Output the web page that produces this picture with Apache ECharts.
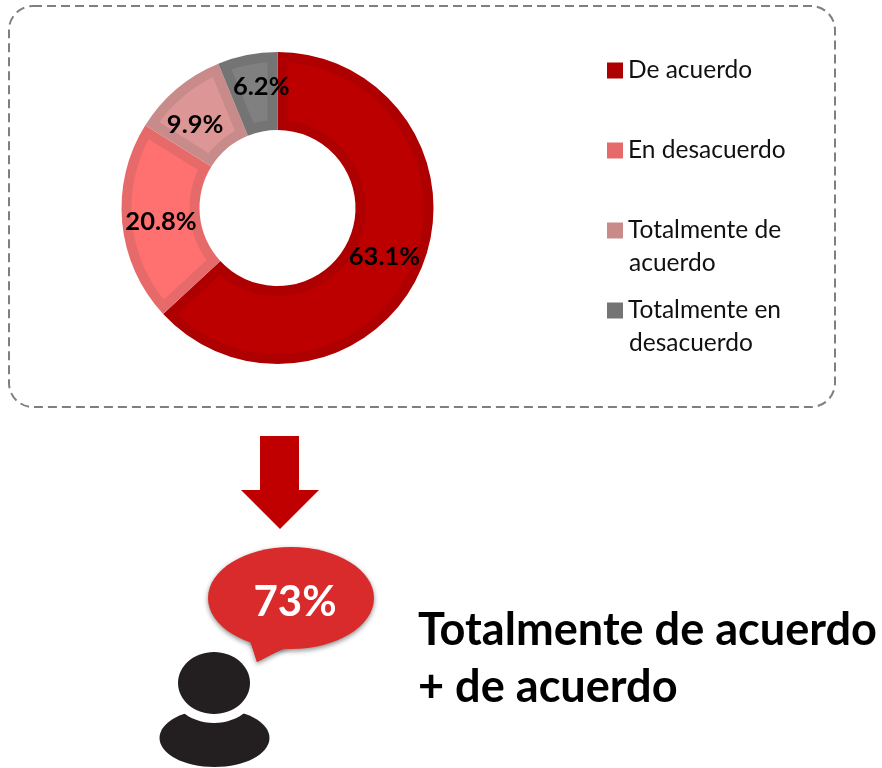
<!DOCTYPE html>
<html>
<head>
<meta charset="utf-8">
<title>Totalmente de acuerdo + de acuerdo</title>
<script src="https://cdn.jsdelivr.net/npm/echarts@6/dist/echarts.min.js"></script>
<style>
	html, body { margin: 0; padding: 0; background: #fff; }
	#chart { width: 882px; height: 768px; }
</style>
</head>
<body>
<div id="chart"></div>
<script>
const categories = ["De acuerdo", "En desacuerdo", "Totalmente de acuerdo", "Totalmente en desacuerdo"];
const values = [63.1, 20.8, 9.9, 6.2];
const ringColors = ["#ae0000", "#e76a6a", "#c98a8a", "#747474"];
const fillColors = ["#bc0000", "#ff7070", "#dc9696", "#808080"];
const labelOffsets = [[-3, 1], [3, 2], [-5, 9], [7, -3]];
const legendFirstLine = ["De acuerdo", "En desacuerdo", "Totalmente de", "Totalmente en"];
const FONT = "Lato";

const cx = 277.5, cy = 208, rOuter = 156, rInner = 78, inset = 10;
const total = values.reduce(function(a, b) { return a + b; }, 0);

// excel style inner border: the lighter part of each slice, kept 10px off every edge
function renderInset(params) {
	let before = 0;
	for (let i = 0; i < params.dataIndex; i++) before += values[i];
	const a0 = before / total * Math.PI * 2;
	const a1 = (before + values[params.dataIndex]) / total * Math.PI * 2;
	const ro = rOuter - inset, ri = rInner + inset;
	const points = [];
	const arc = function(r, from, to) {
		const n = 60;
		for (let k = 0; k <= n; k++) {
			const a = from + (to - from) * k / n;
			points.push([cx + r * Math.sin(a), cy - r * Math.cos(a)]);
		}
	};
	const po = Math.asin(inset / ro), pi = Math.asin(inset / ri);
	arc(ro, a0 + po, a1 - po);
	arc(ri, a1 - pi, a0 + pi);
	return {
		type: "polygon",
		shape: { points: points },
		style: { fill: fillColors[params.dataIndex] }
	};
}

const mychart = echarts.init(document.getElementById("chart"));
mychart.setOption({
	backgroundColor: "#fff",
	animation: false,
	legend: {
		orient: "vertical",
		left: 602,
		top: 53,
		icon: "rect",
		itemWidth: 16,
		itemHeight: 16,
		itemGap: 55,
		selectedMode: false,
		data: categories,
		formatter: function(name) {
			return legendFirstLine[categories.indexOf(name)];
		},
		textStyle: { fontFamily: FONT, fontSize: 24.5, color: "#111" }
	},
	series: [{
		type: "pie",
		z: 1,
		silent: true,
		center: [cx, cy],
		radius: [rInner, rOuter],
		startAngle: 90,
		label: { show: false },
		labelLine: { show: false },
		data: categories.map(function(name, i) {
			return { name: name, value: values[i], itemStyle: { color: ringColors[i] } };
		})
	}, {
		type: "custom",
		z: 2,
		silent: true,
		coordinateSystem: "none",
		renderItem: renderInset,
		data: values
	}, {
		type: "pie",
		z: 3,
		silent: true,
		center: [cx, cy],
		radius: [rInner, rOuter],
		startAngle: 90,
		itemStyle: { color: "rgba(0,0,0,0)" },
		labelLine: { show: false },
		label: {
			show: true,
			position: "inside",
			fontFamily: FONT,
			fontSize: 25.5,
			fontWeight: "bold",
			color: "#000",
			formatter: function(p) { return p.value.toFixed(1) + "%"; }
		},
		data: categories.map(function(name, i) {
			return { name: name + " ", value: values[i], label: { offset: labelOffsets[i] } };
		})
	}],
	graphic: [{
		type: "rect",
		z: 0,
		shape: { x: 9, y: 6, width: 826, height: 401, r: 24 },
		style: { fill: "none", stroke: "#7f7f7f", lineWidth: 2, lineDash: [9, 5] }
	}, {
		type: "text",
		style: { x: 629, y: 263, text: "acuerdo", fontFamily: FONT, fontSize: 24.5, fill: "#111", verticalAlign: "middle" }
	}, {
		type: "text",
		style: { x: 629, y: 343, text: "desacuerdo", fontFamily: FONT, fontSize: 24.5, fill: "#111", verticalAlign: "middle" }
	}, {
		// arrow
		type: "polygon",
		shape: { points: [[260, 436], [299, 436], [299, 490], [319, 490], [280, 529], [241, 490], [260, 490]] },
		style: { fill: "#c00000" }
	}, {
		// speech bubble
		type: "polygon",
		z: 1,
		shape: { points: [[250, 640], [257, 662], [290, 645]] },
		style: { fill: "#d92b2b", shadowBlur: 5, shadowColor: "rgba(0,0,0,0.45)", shadowOffsetY: 2 }
	}, {
		type: "ellipse",
		z: 1,
		shape: { cx: 291, cy: 598, rx: 83, ry: 51 },
		style: { fill: "#d92b2b", shadowBlur: 5, shadowColor: "rgba(0,0,0,0.45)", shadowOffsetY: 2 }
	}, {
		type: "polygon",
		z: 2,
		shape: { points: [[250, 640], [257, 662], [290, 645]] },
		style: { fill: "#d92b2b" }
	}, {
		type: "text",
		z: 3,
		style: { x: 295, y: 602, text: "73%", fontFamily: FONT, fontSize: 42, fontWeight: "bold", fill: "#fff", align: "center", verticalAlign: "middle" }
	}, {
		// person
		type: "ellipse",
		shape: { cx: 214.5, cy: 738, rx: 55, ry: 29 },
		style: { fill: "#231f20" }
	}, {
		type: "ellipse",
		shape: { cx: 214, cy: 683, rx: 46, ry: 40 },
		style: { fill: "#fff" }
	}, {
		type: "ellipse",
		shape: { cx: 214, cy: 683, rx: 36, ry: 31 },
		style: { fill: "#231f20" }
	}, {
		type: "text",
		style: { x: 418, y: 630, text: "Totalmente de acuerdo", fontFamily: FONT, fontSize: 45.1, fontWeight: "bold", fill: "#000", verticalAlign: "middle" }
	}, {
		type: "text",
		style: { x: 418, y: 687, text: "+ de acuerdo", fontFamily: FONT, fontSize: 45.1, fontWeight: "bold", fill: "#000", verticalAlign: "middle" }
	}]
});
</script>
</body>
</html>
